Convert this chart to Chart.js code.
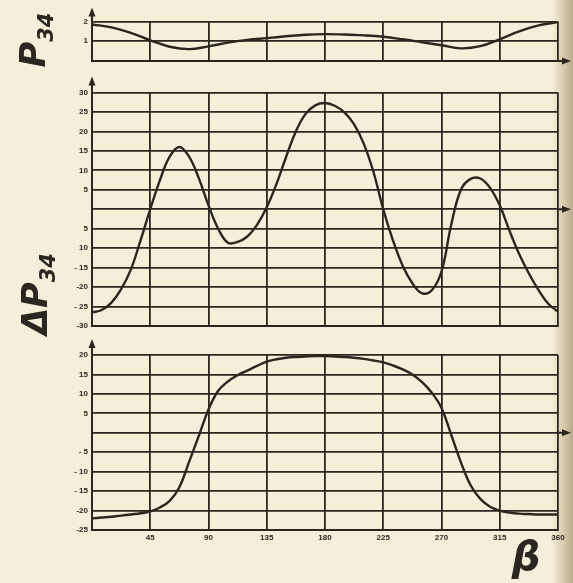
<!DOCTYPE html>
<html>
<head>
<meta charset="utf-8">
<script src="https://cdn.jsdelivr.net/npm/chart.js@4.4.1/dist/chart.umd.min.js"></script>
<style>
  html, body { margin: 0; padding: 0; }
  body {
    width: 573px; height: 583px; overflow: hidden; position: relative;
    background: linear-gradient(to right, #f4efd8 0px, #f4efd8 552px, #dccfb2 562px, #b8a98c 573px);
  }
  canvas { position: absolute; left: 0; top: 0; }
  .lbl { position: absolute; width: 0; height: 0; }
  .lbl > div {
    position: absolute; left: 0; top: 0; white-space: nowrap;
    color: #2b2620; font-family: "DejaVu Sans", sans-serif; font-weight: bold; font-style: italic;
  }
  .rot { transform: translate(-50%, -50%) rotate(-90deg); }
  .flat { transform: translate(-50%, -50%); }
  sub { font-size: 0.6em; }
</style>
</head>
<body>
<canvas id="top-chart" width="573" height="583"></canvas>
<canvas id="mid-chart" width="573" height="583"></canvas>
<canvas id="low-chart" width="573" height="583"></canvas>

<div class="lbl" style="left:35px; top:40px;"><div class="rot" style="font-size:35px">P<sub>34</sub></div></div>
<div class="lbl" style="left:37px; top:294px;"><div class="rot" style="font-size:35px">ΔP<sub>34</sub></div></div>
<div class="lbl" style="left:526px; top:556px;"><div class="flat" style="font-size:40px">β</div></div>

<script>
const ink = '#2b2620';

// angle axis
const xTickLabels = ['', '45', '90', '135', '180', '225', '270', '315', '360'];

// P34 (top panel), every 15 degrees
const p34Angles = [0, 15, 30, 45, 60, 75, 90, 105, 120, 135, 150, 165, 180,
                   195, 210, 225, 240, 255, 270, 285, 300, 315, 330, 345, 360];
const p34Values = [1.85, 1.7, 1.42, 1.05, 0.72, 0.6, 0.74, 0.93, 1.07, 1.16, 1.25, 1.33, 1.36,
                   1.34, 1.3, 1.23, 1.1, 0.95, 0.8, 0.64, 0.75, 1.1, 1.5, 1.8, 1.97];
const p34TickLabels = ['', '1', '2'];

// angles every 7.5 degrees for the two lower panels
const fineAngles = [0, 7.5, 15, 22.5, 30, 37.5, 45, 52.5, 60, 67.5, 75, 82.5, 90,
                    97.5, 105, 112.5, 120, 127.5, 135, 142.5, 150, 157.5, 165, 172.5, 180,
                    187.5, 195, 202.5, 210, 217.5, 225, 232.5, 240, 247.5, 255, 262.5, 270,
                    277.5, 285, 292.5, 300, 307.5, 315, 322.5, 330, 337.5, 345, 352.5, 360];

// ΔP34 (middle panel)
const deltaValues = [-26.5, -25.9, -24, -20.5, -15.5, -8, 0, 7.5, 13.5, 16, 13.5, 8, 1,
                     -5, -8.6, -8.4, -7, -4, 0.5, 6.5, 13.5, 20, 24.5, 26.7, 27.3,
                     26.6, 24.9, 21.8, 16.8, 9.5, 0, -8, -14.5, -19, -21.6, -20.8, -16,
                     -4, 5, 7.8, 7.9, 5.5, 1, -5.5, -11.5, -16.5, -20.8, -24.3, -26.3];
const deltaTickLabels = ['-30', '- 25', '-20', '- 15', '10', '5', '', '5', '10', '15', '20', '25', '30'];

// lower panel
const lowerValues = [-22, -21.8, -21.6, -21.3, -21, -20.7, -20.2, -19.2, -17.5, -14, -7.5, -0.8, 6,
                     10.8, 13.2, 14.8, 16, 17.2, 18.3, 18.9, 19.3, 19.5, 19.6, 19.7, 19.7,
                     19.6, 19.5, 19.3, 19, 18.6, 18.1, 17.3, 16.3, 15, 13, 10.3, 6.4,
                     -0.5, -7.6, -13.5, -17, -19, -20, -20.5, -20.8, -20.9, -21, -21, -21];
const lowerTickLabels = ['-25', '-20', '- 15', '- 10', '- 5', '', '5', '10', '15', '20'];

const arrowPlugin = {
    id: 'arrows',
    afterDraw(chart) {
        const ctx = chart.ctx, a = chart.chartArea;
        const y0 = chart.scales.y.getPixelForValue(0);
        const up = chart.options.plugins.arrows.up;
        ctx.save();
        ctx.strokeStyle = ink;
        ctx.fillStyle = ink;
        ctx.lineWidth = 2;
        // arrow up the left axis
        ctx.beginPath();
        ctx.moveTo(a.left, a.top);
        ctx.lineTo(a.left, a.top - up + 4);
        ctx.stroke();
        ctx.beginPath();
        ctx.moveTo(a.left, a.top - up);
        ctx.lineTo(a.left - 3.5, a.top - up + 9);
        ctx.lineTo(a.left + 3.5, a.top - up + 9);
        ctx.closePath();
        ctx.fill();
        // arrow to the right along zero
        ctx.beginPath();
        ctx.moveTo(a.right, y0);
        ctx.lineTo(a.right + 9, y0);
        ctx.stroke();
        ctx.beginPath();
        ctx.moveTo(a.right + 13, y0);
        ctx.lineTo(a.right + 4, y0 - 3.5);
        ctx.lineTo(a.right + 4, y0 + 3.5);
        ctx.closePath();
        ctx.fill();
        ctx.restore();
    }
};

function points(xs, ys) {
    return xs.map((x, i) => ({ x: x, y: ys[i] }));
}

function makeChart(id, cfg) {
    const yTicks = [];
    for (let v = cfg.yMin; v <= cfg.yMax + 1e-9; v += cfg.yStep) {
        yTicks.push(v);
    }
    new Chart(document.getElementById(id), {
        type: 'line',
        data: {
            datasets: [{
                data: points(cfg.xs, cfg.ys),
                borderColor: ink,
                borderWidth: 2.4,
                pointRadius: 0,
                tension: 0.4,
                fill: false
            }]
        },
        plugins: [arrowPlugin],
        options: {
            responsive: false,
            animation: false,
            devicePixelRatio: 1,
            layout: {
                padding: { left: 52, right: 15, top: cfg.top, bottom: 583 - cfg.bottom - cfg.xHeight }
            },
            plugins: {
                legend: { display: false },
                tooltip: { enabled: false },
                arrows: { up: cfg.up }
            },
            scales: {
                x: {
                    type: 'linear',
                    min: 0,
                    max: 360,
                    afterFit: s => { s.height = cfg.xHeight; },
                    ticks: {
                        display: cfg.xLabels,
                        stepSize: 45,
                        padding: 3,
                        color: ink,
                        font: { family: 'Liberation Sans', size: 8, weight: 'bold' },
                        callback: (v, i) => xTickLabels[i]
                    },
                    grid: { color: ink, lineWidth: 1.8, drawTicks: false },
                    border: { display: true, color: ink, width: 2 }
                },
                y: {
                    min: cfg.yMin,
                    max: cfg.yMax,
                    afterFit: s => { s.width = 40; },
                    ticks: {
                        stepSize: cfg.yStep,
                        padding: 4,
                        color: ink,
                        font: { family: 'Liberation Sans', size: 8, weight: 'bold' },
                        callback: v => cfg.yLabels[yTicks.findIndex(t => Math.abs(t - v) < 1e-6)]
                    },
                    grid: { color: ink, lineWidth: 1.8, drawTicks: false },
                    border: { display: true, color: ink, width: 2 }
                }
            }
        }
    });
}

makeChart('top-chart', {
    xs: p34Angles, ys: p34Values, yMin: 0, yMax: 2, yStep: 1, yLabels: p34TickLabels,
    top: 21.5, bottom: 61, xHeight: 0, xLabels: false, up: 14
});
makeChart('mid-chart', {
    xs: fineAngles, ys: deltaValues, yMin: -30, yMax: 30, yStep: 5, yLabels: deltaTickLabels,
    top: 92.5, bottom: 326, xHeight: 0, xLabels: false, up: 16
});
makeChart('low-chart', {
    xs: fineAngles, ys: lowerValues, yMin: -25, yMax: 20, yStep: 5, yLabels: lowerTickLabels,
    top: 355, bottom: 530, xHeight: 18, xLabels: true, up: 16
});
</script>
</body>
</html>
